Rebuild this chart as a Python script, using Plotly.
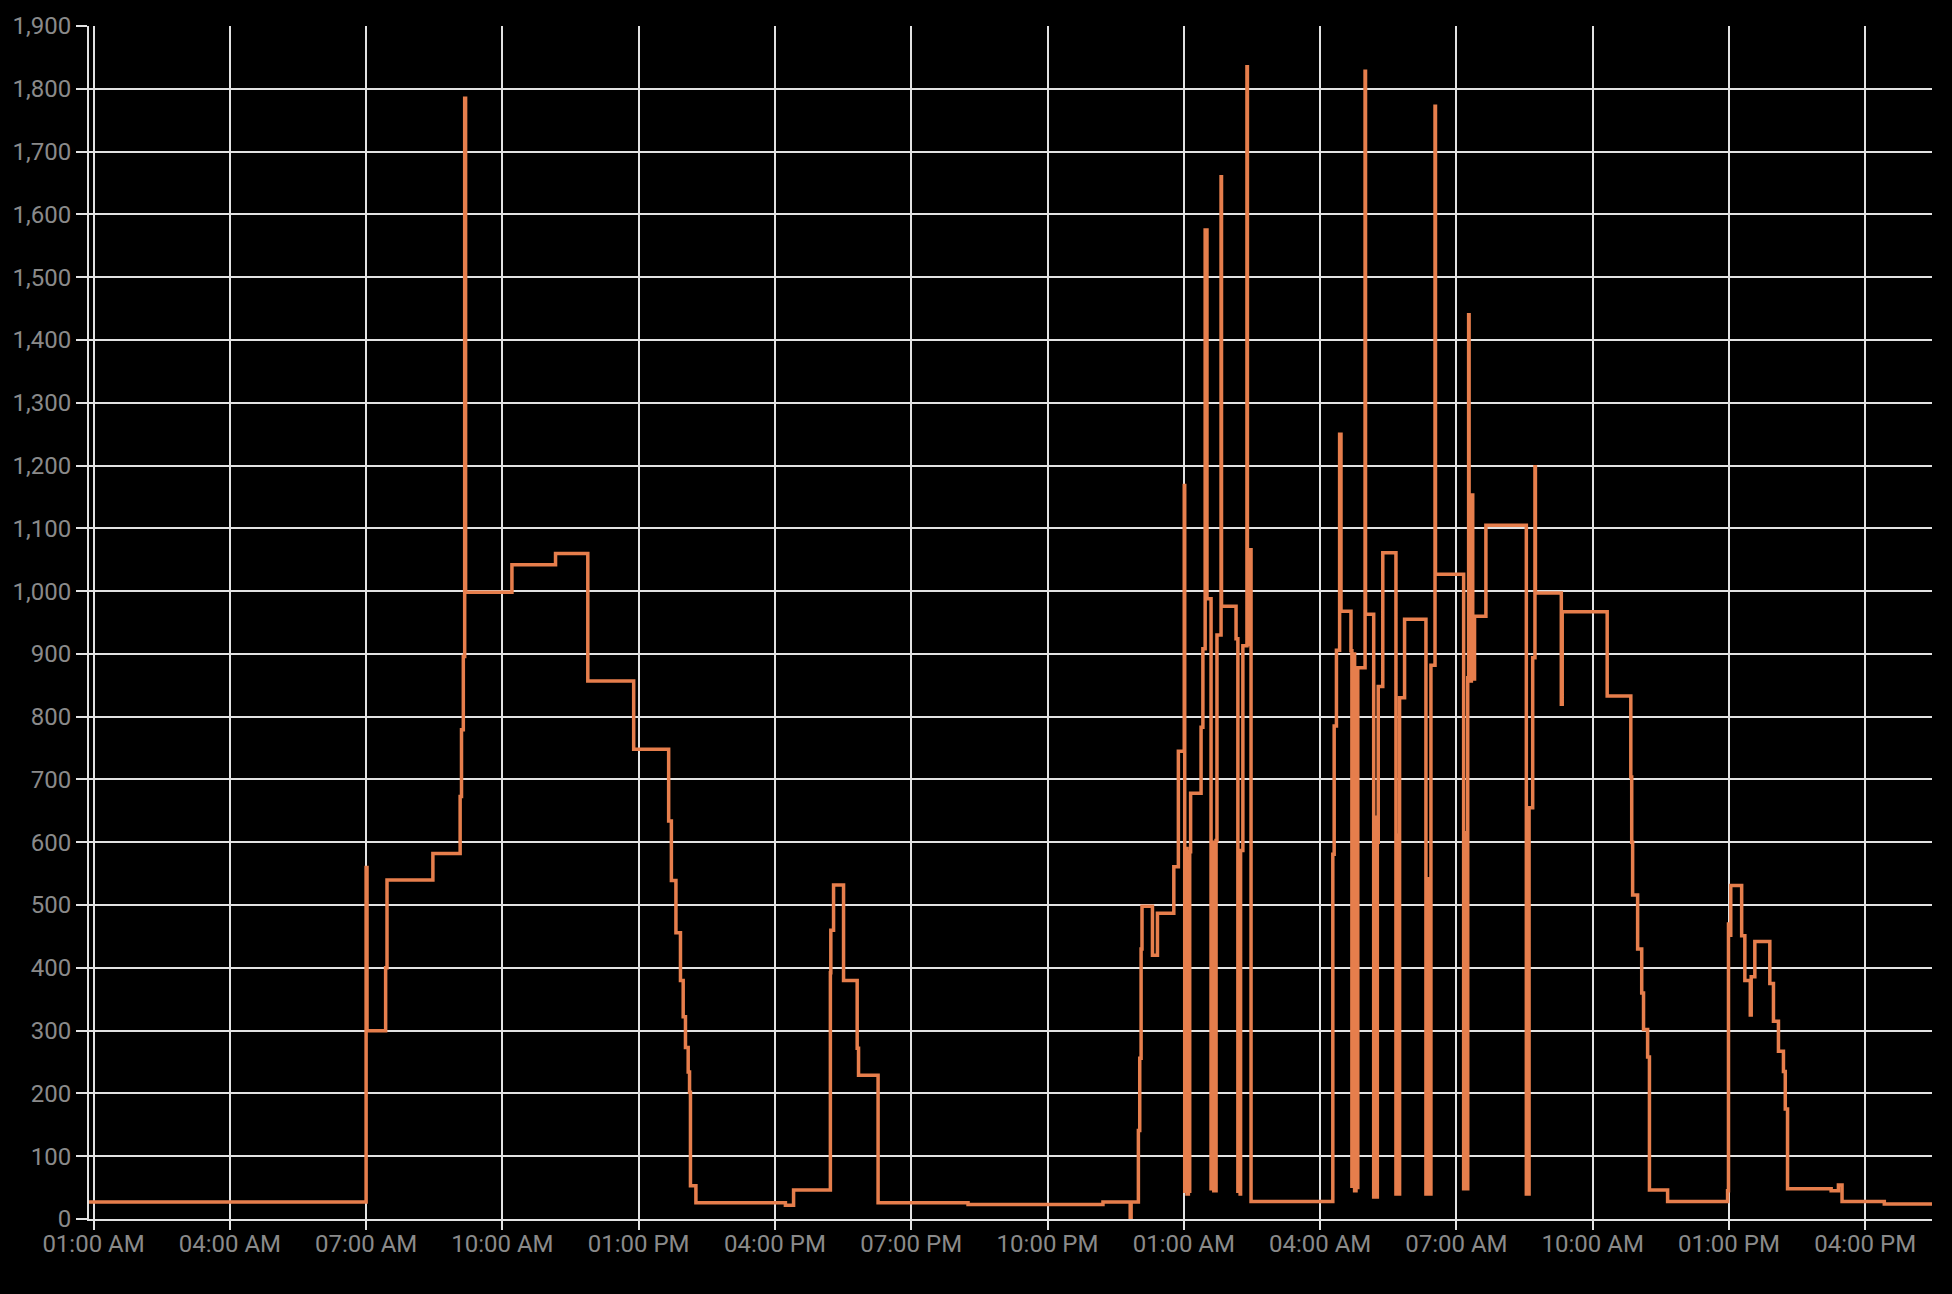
import pandas as pd
import plotly.graph_objects as go

# ---- data (hours since midnight of day 1, power values) ----
START = "2024-05-14 00:00"

hours = [
    0.90, 7.00, 7.02, 7.43, 7.46, 8.47, 9.07, 9.10, 9.14, 9.17, 9.19, 10.21, 11.17, 11.88,
    12.89, 13.66, 13.72, 13.82, 13.92, 13.98, 14.03, 14.09, 14.12, 14.14, 14.26, 16.23,
    16.41, 17.22, 17.23, 17.29, 17.51, 17.81, 17.84, 18.27, 20.25, 23.22, 23.82, 23.84,
    24.00, 24.03, 24.06, 24.08, 24.31, 24.42, 24.78, 24.88, 25.01, 25.02, 25.05, 25.07,
    25.10, 25.12, 25.13, 25.15, 25.38, 25.42, 25.47, 25.51, 25.60, 25.63, 25.66, 25.71,
    25.73, 25.82, 25.83, 26.15, 26.19, 26.22, 26.24, 26.25, 26.30, 26.39, 26.40, 26.42,
    26.44, 26.48, 28.28, 28.31, 28.36, 28.43, 28.46, 28.68, 28.70, 28.73, 28.76, 28.79,
    28.81, 28.83, 28.99, 29.00, 29.18, 29.21, 29.23, 29.26, 29.28, 29.38, 29.67, 29.70,
    29.72, 29.75, 29.86, 30.33, 30.36, 30.38, 30.44, 30.53, 30.54, 31.16, 31.19, 31.21,
    31.25, 31.27, 31.28, 31.31, 31.33, 31.36, 31.40, 31.65, 32.54, 32.60, 32.68, 32.73,
    32.74, 33.31, 33.33, 34.32, 34.84, 34.86, 34.88, 34.99, 35.08, 35.12, 35.21, 35.25,
    35.65, 36.97, 36.99, 37.00, 37.04, 37.28, 37.35, 37.47, 37.49, 37.57, 37.90, 37.98,
    38.09, 38.20, 38.24, 38.29, 39.25, 39.41, 39.49, 40.42, 41.47,
]

power = [
    27, 560, 300, 400, 540, 582, 673, 779, 896, 1785, 998, 1042, 1060, 857,
    748, 634, 539, 456, 380, 322, 273, 234, 202, 53, 26, 22,
    46, 392, 460, 532, 380, 272, 229, 26, 23, 27, 0, 27,
    141, 256, 430, 498, 420, 487, 561, 745, 1168, 44, 590, 40,
    585, 44, 585, 678, 783, 908, 1575, 988, 48, 600, 45, 603,
    930, 1660, 976, 924, 44, 580, 40, 587, 913, 1835, 1066, 915,
    1066, 28, 581, 785, 906, 1250, 968, 905, 52, 900, 45, 870,
    50, 878, 1828, 963, 35, 640, 35, 600, 848, 1061, 40, 611,
    40, 830, 955, 40, 542, 40, 882, 1772, 1027, 48, 615, 48,
    862, 1440, 1153, 857, 1153, 860, 960, 1105, 40, 655, 894, 1198,
    997, 820, 967, 833, 704, 600, 516, 430, 360, 302, 258, 46,
    28, 45, 470, 452, 531, 451, 380, 325, 386, 442, 375, 315,
    267, 235, 175, 48, 45, 54, 28, 24, 24,
]

y_ticks = list(range(0, 2000, 100))

# ---- build ----
t0 = pd.Timestamp(START)
times = [t0 + pd.Timedelta(hours=h) for h in hours]

GRID = "#e2e2e2"
LABEL = "#8a8a8a"
LINE = "#e67e4c"

fig = go.Figure()
fig.add_trace(go.Scatter(
    x=times, y=power, mode="lines",
    line=dict(color=LINE, width=3.5, shape="hv"),
    hoverinfo="skip", showlegend=False,
))

fig.update_layout(
    width=1952, height=1294,
    margin=dict(l=89, r=20, t=21, b=75),
    paper_bgcolor="black", plot_bgcolor="black",
    font=dict(family="Roboto", size=24, color=LABEL),
    showlegend=False,
)
fig.update_xaxes(
    type="date",
    range=[times[0], times[-1]],
    tick0=t0 + pd.Timedelta(hours=1),
    dtick=3 * 3600 * 1000,
    tickformat="%I:%M %p",
    showgrid=True, gridcolor=GRID, gridwidth=2,
    showline=True, linecolor=GRID, linewidth=2,
    ticks="outside", ticklen=9, tickwidth=2, tickcolor=GRID,
    ticklabelstandoff=-7,
    zeroline=False,
)
fig.update_yaxes(
    range=[0, 1900],
    tickvals=y_ticks,
    tickformat=",d",
    showgrid=True, gridcolor=GRID, gridwidth=2,
    showline=True, linecolor=GRID, linewidth=2,
    ticks="outside", ticklen=11, tickwidth=2, tickcolor=GRID,
    zeroline=False,
)

fig.write_html("out.html", config={"displayModeBar": False},
               post_script="document.body.style.margin='0';")
